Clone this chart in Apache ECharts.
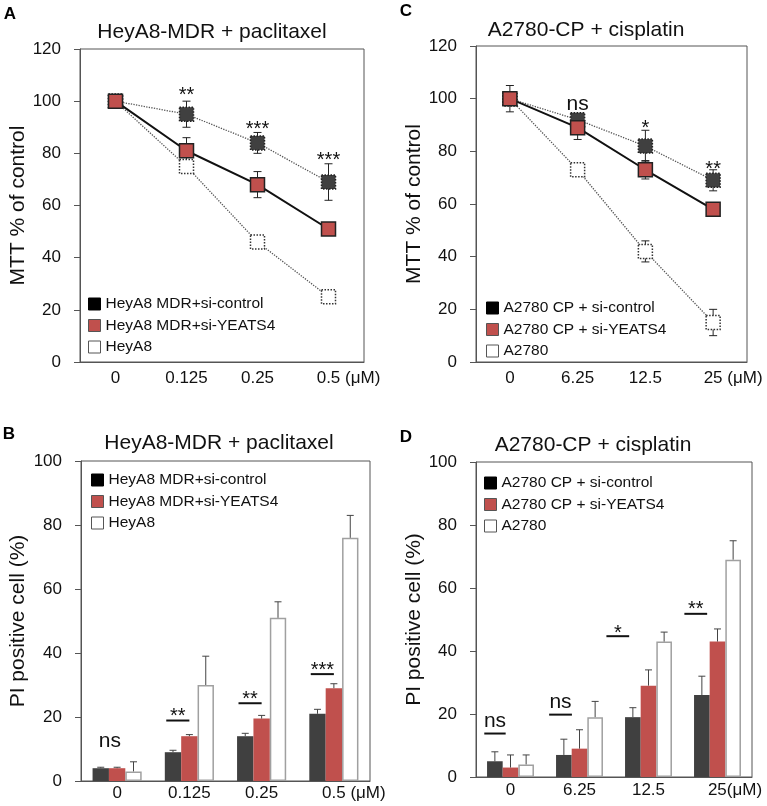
<!DOCTYPE html>
<html><head><meta charset="utf-8">
<script src="https://cdn.jsdelivr.net/npm/echarts@6/dist/echarts.min.js"></script>
<style>html,body{margin:0;padding:0;background:#fff}#c{width:767px;height:806px}</style>
</head><body><div id="c"></div>
<script>
// ---------- DATA ----------
// Panel A: MTT, HeyA8-MDR + paclitaxel
const catA = ['0', '0.125', '0.25', '0.5'];
const A_siControl = [100, 95, 84, 69];
const A_siControlErr = [0, 5, 4, 7];
const A_siYEATS4 = [100, 81, 68, 51];
const A_siYEATS4Err = [0, 5, 5, 2];
const A_heyA8 = [100, 75, 46, 25];
const A_heyA8Err = [0, 0, 0, 0];
const A_sig = ['', '**', '***', '***'];
const A_sigY = [0, 104, 91, 79];

// Panel C: MTT, A2780-CP + cisplatin
const catC = ['0', '6.25', '12.5', '25'];
const C_siControl = [100, 92, 82, 69];
const C_siControlErr = [0, 2, 6, 4];
const C_siYEATS4 = [100, 89, 73, 58];
const C_siYEATS4Err = [0, 4.5, 3.5, 1];
const C_a2780 = [100, 73, 42, 15];
const C_a2780Err = [5, 2, 4, 5];
const C_sig = ['', 'ns', '*', '**'];
const C_sigY = [0, 98, 90.5, 75];

// Panel B: PI positive cells, HeyA8-MDR + paclitaxel
const catB = ['0', '0.125', '0.25', '0.5'];
const B_siControl = [4, 9, 14, 21];
const B_siControlErr = [0.3, 0.6, 0.9, 1.4];
const B_siYEATS4 = [4, 14, 19.5, 29];
const B_siYEATS4Err = [0.3, 0.5, 1, 1.4];
const B_heyA8 = [3, 30, 51, 76];
const B_heyA8Err = [3, 9, 5, 7];
const B_sig = ['ns', '**', '**', '***'];
const B_sigLineY = [null, 18.9, 24.3, 33.4];
const B_sigTextY = [12.3, 21.7, 26.9, 36];

// Panel D: PI positive cells, A2780-CP + cisplatin
const catD = ['0', '6.25', '12.5', '25'];
const D_siControl = [5, 7, 19, 26];
const D_siControlErr = [3, 5, 3, 6];
const D_siYEATS4 = [3, 9, 29, 43];
const D_siYEATS4Err = [4, 6, 5, 4];
const D_a2780 = [4, 19, 43, 69];
const D_a2780Err = [3, 5, 3, 6];
const D_sig = ['ns', 'ns', '*', '**'];
const D_sigLineY = [13.8, 19.8, 44.7, 51.8];
const D_sigTextY = [17.6, 23.6, 47, 54.7];

const yTicksMTT = [0, 120, 20];
const yTicksPI = [0, 100, 20];

// ---------- LAYOUT / STYLE ----------
const FONT = 'Arial, "Liberation Sans", Helvetica, sans-serif';
const DARK = '#404040', RED = '#c0504d', TXT = '#111', AX = '#555';
const BAR_GAP = 0.32;
// significance bar x-ranges as fraction of band width (relative to group centre)
const B_lineFrac = [null, [-0.32, 0], [-0.32, 0], [-0.32, 0]];
const B_textFrac = [-0.1, -0.16, -0.16, -0.16];
const D_lineFrac = [[-0.38, -0.07], [-0.44, -0.11], [-0.61, -0.28], [-0.48, -0.15]];

const chart = echarts.init(document.getElementById('c'), null, {renderer: 'canvas'});

function xAxisDef(gi, cats, unitPad, margin) {
  return {
    type: 'category', gridIndex: gi, data: cats, boundaryGap: true,
    axisLine: {lineStyle: {color: AX, width: 1}}, axisTick: {show: false},
    axisLabel: {
      fontSize: 17, color: TXT, fontFamily: FONT, margin: margin, interval: 0,
      formatter: (v, i) => i === cats.length - 1 ? '{p|}' + v + unitPad.text : v,
      rich: {p: {width: unitPad.w}}
    }
  };
}
function yAxisDef(gi, ticks, name, nameGap) {
  return {
    type: 'value', gridIndex: gi, min: ticks[0], max: ticks[1], interval: ticks[2],
    name: name, nameLocation: 'middle', nameGap: nameGap,
    nameTextStyle: {fontSize: 21, color: TXT, fontFamily: FONT},
    axisLine: {show: true, lineStyle: {color: AX, width: 1}},
    axisTick: {show: true, length: 6, lineStyle: {color: AX}},
    splitLine: {show: false},
    axisLabel: {fontSize: 17, color: TXT, fontFamily: FONT, margin: 19}
  };
}

function lineErr(ax, vals, errs) {
  return {
    type: 'custom', xAxisIndex: ax, yAxisIndex: ax, z: 1, silent: true,
    data: vals.map((v, i) => [i, v, errs[i]]),
    renderItem: (p, api) => {
      const i = api.value(0), v = api.value(1), e = api.value(2);
      if (!e) return null;
      const t = api.coord([i, v + e]), b = api.coord([i, v - e]);
      const s = {stroke: '#222', lineWidth: 1};
      return {type: 'group', children: [
        {type: 'line', shape: {x1: t[0], y1: t[1], x2: b[0], y2: b[1]}, style: s},
        {type: 'line', shape: {x1: t[0] - 4, y1: t[1], x2: t[0] + 4, y2: t[1]}, style: s},
        {type: 'line', shape: {x1: b[0] - 4, y1: b[1], x2: b[0] + 4, y2: b[1]}, style: s}
      ]};
    }
  };
}
function barErr(ax, vals, errs, k) {
  return {
    type: 'custom', xAxisIndex: ax, yAxisIndex: ax, z: 3, silent: true,
    data: vals.map((v, i) => [i, v, errs[i]]),
    renderItem: (p, api) => {
      const i = api.value(0), v = api.value(1), e = api.value(2);
      const band = api.size([1, 0])[0];
      const bw = band * (1 - BAR_GAP) / 3;
      const c = api.coord([i, v]), t = api.coord([i, v + e]);
      const x = c[0] + (k - 1) * bw;
      const s = {stroke: '#444', lineWidth: 1};
      return {type: 'group', children: [
        {type: 'line', shape: {x1: x, y1: c[1], x2: x, y2: t[1]}, style: s},
        {type: 'line', shape: {x1: x - 3.5, y1: t[1], x2: x + 3.5, y2: t[1]}, style: s}
      ]};
    }
  };
}
function sigText(ax, labels, ys, fracs, lineYs, lineFracs) {
  return {
    type: 'custom', xAxisIndex: ax, yAxisIndex: ax, z: 5, silent: true,
    data: ys.map((y, i) => [i, y]),
    renderItem: (p, api) => {
      const i = p.dataIndex; const lab = labels[i];
      if (!lab) return null;
      const band = api.size([1, 0])[0];
      const c = api.coord([i, ys[i]]);
      const star = lab.indexOf('*') >= 0;
      const ch = [{type: 'text', x: c[0] + (fracs ? fracs[i] : 0) * band, y: c[1] + (star ? 5 : 0),
        style: {text: lab, fill: '#111', font: (star ? '20px ' : '21px ') + FONT, align: 'center', verticalAlign: 'middle'}}];
      if (lineYs && lineYs[i] != null && lineFracs[i]) {
        const l = api.coord([i, lineYs[i]]);
        ch.push({type: 'line', shape: {x1: l[0] + lineFracs[i][0] * band, y1: l[1], x2: l[0] + lineFracs[i][1] * band, y2: l[1]},
          style: {stroke: '#111', lineWidth: 2}});
      }
      return {type: 'group', children: ch};
    }
  };
}
function lineSeries(ax, name, vals, kind) {
  const st = {
    ctrl: {line: {type: 'dotted', color: '#555', width: 1.3}, item: {color: DARK, borderColor: '#222', borderType: 'dotted', borderWidth: 1.5}},
    yeats: {line: {type: 'solid', color: '#111', width: 2}, item: {color: RED, borderColor: '#222', borderWidth: 1.5}},
    wt: {line: {type: 'dotted', color: '#555', width: 1.3}, item: {color: '#fff', borderColor: '#333', borderType: 'dotted', borderWidth: 1.5}}
  }[kind];
  return {type: 'line', name: name, xAxisIndex: ax, yAxisIndex: ax, data: vals, symbol: 'rect', symbolSize: 14,
    showSymbol: true, lineStyle: st.line, itemStyle: st.item, z: kind === 'yeats' ? 4 : (kind === 'ctrl' ? 3 : 2), silent: true};
}
function barSeries(ax, name, vals, kind) {
  const it = {ctrl: {color: DARK}, yeats: {color: RED}, wt: {color: '#fff', borderColor: '#a0a0a0', borderWidth: 1.5}}[kind];
  return {type: 'bar', name: name, xAxisIndex: ax, yAxisIndex: ax, data: vals, barGap: '0%', barCategoryGap: (BAR_GAP * 100) + '%',
    itemStyle: it, silent: true, z: 2};
}
function legendDef(names, left, top) {
  const styles = [{color: '#000', borderColor: '#000', borderWidth: 1, borderType: 'solid'},
                  {color: RED, borderColor: '#555', borderWidth: 1, borderType: 'solid'},
                  {color: '#fff', borderColor: '#555', borderWidth: 1, borderType: 'solid'}];
  return {orient: 'vertical', left: left, top: top, itemWidth: 12, itemHeight: 12, itemGap: 5.5, selectedMode: false,
    padding: 0, icon: 'rect',
    textStyle: {fontSize: 15.5, color: TXT, fontFamily: FONT, padding: [0, 0, 0, 0]},
    data: names.map((n, i) => ({name: n, icon: 'rect', itemStyle: styles[i]}))};
}

const namesA = ['HeyA8 MDR+si-control', 'HeyA8 MDR+si-YEATS4', 'HeyA8'];
const namesC = ['A2780 CP + si-control', 'A2780 CP + si-YEATS4', 'A2780'];

const option = {
  animation: false,
  grid: [
    {left: 80, top: 49, width: 284, height: 313, show: true, borderColor: AX, borderWidth: 1},
    {left: 476, top: 46, width: 271, height: 316, show: true, borderColor: AX, borderWidth: 1},
    {left: 81, top: 461, width: 289, height: 320, show: true, borderColor: AX, borderWidth: 1},
    {left: 476, top: 462, width: 276, height: 315, show: true, borderColor: AX, borderWidth: 1}
  ],
  xAxis: [
    xAxisDef(0, catA, {text: ' (μM)', w: 40}, 8),
    xAxisDef(1, catC, {text: ' (μM)', w: 40}, 8),
    xAxisDef(2, catB, {text: ' (μM)', w: 40}, 4),
    xAxisDef(3, catD, {text: '(μM)', w: 35}, 5)
  ],
  yAxis: [
    yAxisDef(0, yTicksMTT, 'MTT % of control', 45),
    yAxisDef(1, yTicksMTT, 'MTT % of control', 47),
    yAxisDef(2, yTicksPI, 'PI positive cell (%)', 52),
    yAxisDef(3, yTicksPI, 'PI positive cell (%)', 46)
  ],
  legend: [
    legendDef(namesA, 88, 296),
    legendDef(namesC, 486, 300),
    legendDef(namesA, 91, 472),
    legendDef(namesC, 484, 475)
  ],
  graphic: [
    {type: 'text', x: 10, y: 14, style: {text: 'A', font: 'bold 17px ' + FONT, fill: '#000', align: 'center', verticalAlign: 'middle'}},
    {type: 'text', x: 406, y: 11, style: {text: 'C', font: 'bold 17px ' + FONT, fill: '#000', align: 'center', verticalAlign: 'middle'}},
    {type: 'text', x: 9, y: 434, style: {text: 'B', font: 'bold 17px ' + FONT, fill: '#000', align: 'center', verticalAlign: 'middle'}},
    {type: 'text', x: 406, y: 437, style: {text: 'D', font: 'bold 17px ' + FONT, fill: '#000', align: 'center', verticalAlign: 'middle'}},
    {type: 'text', x: 212, y: 32, style: {text: 'HeyA8-MDR + paclitaxel', font: '21px ' + FONT, fill: TXT, align: 'center', verticalAlign: 'middle'}},
    {type: 'text', x: 586, y: 30, style: {text: 'A2780-CP + cisplatin', font: '21px ' + FONT, fill: TXT, align: 'center', verticalAlign: 'middle'}},
    {type: 'text', x: 219, y: 443, style: {text: 'HeyA8-MDR + paclitaxel', font: '21px ' + FONT, fill: TXT, align: 'center', verticalAlign: 'middle'}},
    {type: 'text', x: 593, y: 445, style: {text: 'A2780-CP + cisplatin', font: '21px ' + FONT, fill: TXT, align: 'center', verticalAlign: 'middle'}}
  ],
  series: [
    lineErr(0, A_siControl, A_siControlErr), lineErr(0, A_siYEATS4, A_siYEATS4Err), lineErr(0, A_heyA8, A_heyA8Err),
    lineSeries(0, namesA[2], A_heyA8, 'wt'), lineSeries(0, namesA[0], A_siControl, 'ctrl'), lineSeries(0, namesA[1], A_siYEATS4, 'yeats'),
    sigText(0, A_sig, A_sigY),

    lineErr(1, C_siControl, C_siControlErr), lineErr(1, C_siYEATS4, C_siYEATS4Err), lineErr(1, C_a2780, C_a2780Err),
    lineSeries(1, namesC[2], C_a2780, 'wt'), lineSeries(1, namesC[0], C_siControl, 'ctrl'), lineSeries(1, namesC[1], C_siYEATS4, 'yeats'),
    sigText(1, C_sig, C_sigY),

    barSeries(2, namesA[0], B_siControl, 'ctrl'), barSeries(2, namesA[1], B_siYEATS4, 'yeats'), barSeries(2, namesA[2], B_heyA8, 'wt'),
    barErr(2, B_siControl, B_siControlErr, 0), barErr(2, B_siYEATS4, B_siYEATS4Err, 1), barErr(2, B_heyA8, B_heyA8Err, 2),
    sigText(2, B_sig, B_sigTextY, B_textFrac, B_sigLineY, B_lineFrac),

    barSeries(3, namesC[0], D_siControl, 'ctrl'), barSeries(3, namesC[1], D_siYEATS4, 'yeats'), barSeries(3, namesC[2], D_a2780, 'wt'),
    barErr(3, D_siControl, D_siControlErr, 0), barErr(3, D_siYEATS4, D_siYEATS4Err, 1), barErr(3, D_a2780, D_a2780Err, 2),
    sigText(3, D_sig, D_sigTextY, D_lineFrac.map(f => (f[0] + f[1]) / 2), D_sigLineY, D_lineFrac)
  ]
};
chart.setOption(option);
</script></body></html>
